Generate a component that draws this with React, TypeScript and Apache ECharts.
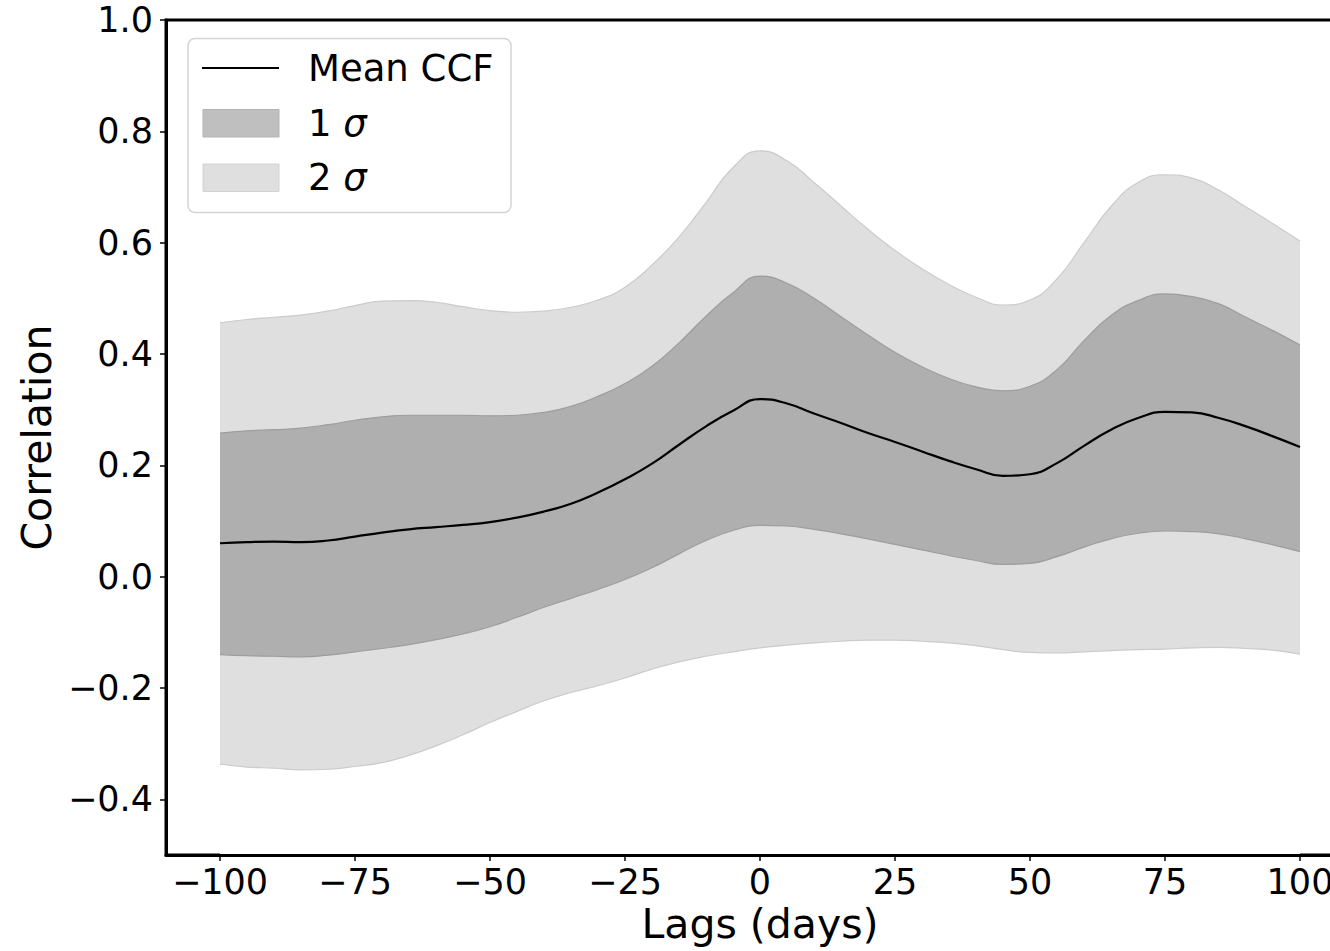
import React, { useEffect, useRef } from 'react';
import * as echarts from 'echarts';

// Lags (days) at which the CCF summary is sampled
const lags = [
  -100, -95, -90, -85, -80, -75, -70, -65, -60, -55, -50, -45, -40, -35, -30, -25, -20, -15, -10, -5,
  0, 5, 10, 15, 20, 25, 30, 35, 40, 45, 50, 55, 60, 65, 70, 75, 80, 85, 90, 95, 100,
];

const meanCCF = [
  0.060, 0.062, 0.063, 0.062, 0.065, 0.072, 0.079, 0.085, 0.089, 0.093, 0.098, 0.106, 0.117, 0.131,
  0.151, 0.175, 0.203, 0.237, 0.270, 0.298, 0.319, 0.311, 0.293, 0.276, 0.258, 0.242, 0.225, 0.208,
  0.193, 0.181, 0.184, 0.204, 0.235, 0.264, 0.285, 0.296, 0.295, 0.285, 0.270, 0.252, 0.233,
];

const sigma1Upper = [
  0.258, 0.262, 0.264, 0.267, 0.273, 0.281, 0.287, 0.290, 0.290, 0.290, 0.289, 0.290, 0.295, 0.306,
  0.324, 0.347, 0.378, 0.420, 0.468, 0.510, 0.540, 0.527, 0.500, 0.467, 0.434, 0.403, 0.377, 0.356,
  0.341, 0.334, 0.342, 0.372, 0.424, 0.469, 0.496, 0.508, 0.503, 0.490, 0.466, 0.442, 0.416,
];

const sigma1Lower = [
  -0.140, -0.142, -0.143, -0.144, -0.141, -0.135, -0.129, -0.122, -0.113, -0.103, -0.090, -0.073,
  -0.055, -0.039, -0.023, -0.005, 0.016, 0.041, 0.065, 0.083, 0.092, 0.091, 0.085, 0.077, 0.068,
  0.058, 0.048, 0.038, 0.029, 0.022, 0.024, 0.036, 0.053, 0.068, 0.078, 0.082, 0.081, 0.077, 0.068,
  0.057, 0.045,
];

const sigma2Upper = [
  0.456, 0.462, 0.466, 0.470, 0.477, 0.487, 0.495, 0.496, 0.493, 0.485, 0.478, 0.475, 0.477, 0.484,
  0.497, 0.520, 0.560, 0.610, 0.672, 0.735, 0.765, 0.747, 0.708, 0.666, 0.624, 0.586, 0.553, 0.525,
  0.502, 0.488, 0.497, 0.535, 0.600, 0.665, 0.708, 0.722, 0.716, 0.694, 0.664, 0.634, 0.603,
];

const sigma2Lower = [
  -0.337, -0.342, -0.344, -0.347, -0.346, -0.341, -0.334, -0.321, -0.304, -0.284, -0.262, -0.242,
  -0.223, -0.208, -0.196, -0.182, -0.166, -0.153, -0.143, -0.135, -0.128, -0.123, -0.119, -0.116,
  -0.114, -0.114, -0.116, -0.119, -0.124, -0.131, -0.136, -0.137, -0.135, -0.133, -0.131, -0.130,
  -0.128, -0.127, -0.129, -0.132, -0.139,
];

const xTickValues = [-100, -75, -50, -25, 0, 25, 50, 75, 100];
const yTickValues = [-0.4, -0.2, 0.0, 0.2, 0.4, 0.6, 0.8, 1.0];

const FONT = 'DejaVu Sans';

export default function App() {
  const ref = useRef<HTMLDivElement>(null);

  useEffect(() => {
    if (!ref.current) return;
    const chart = echarts.init(ref.current, undefined, { renderer: 'svg' });

    const pairs = (arr: number[]) => arr.map((v, i) => [lags[i], v]);
    const SMOOTH = 0.5;

    // Each band edge is filled down to the axis bottom; nested, opaque fills
    // painted in order give the 2σ / 1σ / 1σ / 2σ layering.
    const edge = (name: string, data: number[], fill: string, stroke: string) => ({
      name,
      type: 'line',
      data: pairs(data),
      smooth: SMOOTH,
      symbol: 'none',
      showSymbol: false,
      silent: true,
      lineStyle: { color: stroke, width: 1.2 },
      areaStyle: { color: fill, opacity: 1, origin: 'start' },
    });

    const option: any = {
      animation: false,
      backgroundColor: '#ffffff',
      grid: {
        left: 166,
        top: 20,
        width: 1188,
        height: 835,
        show: true,
        borderColor: '#000000',
        borderWidth: 3,
        backgroundColor: 'transparent',
        containLabel: false,
        outerBoundsMode: 'none',
      },
      xAxis: {
        type: 'value',
        min: -110,
        max: 110,
        z: 10,
        name: 'Lags (days)',
        nameLocation: 'middle',
        nameGap: 48,
        nameTextStyle: { fontSize: 41, fontFamily: FONT, color: '#000' },
        axisLine: { show: true, onZero: false, lineStyle: { color: '#000', width: 3 } },
        axisTick: {
          show: true,
          length: 6,
          lineStyle: { color: '#000', width: 1.5 },
          customValues: xTickValues,
        },
        axisLabel: {
          customValues: xTickValues,
          formatter: (v: number) => (v < 0 ? '\u2212' : '') + Math.abs(v),
          fontSize: 35,
          fontFamily: FONT,
          color: '#000',
          margin: 9,
        },
        splitLine: { show: false },
      },
      yAxis: {
        type: 'value',
        min: -0.5,
        max: 1.0,
        z: 10,
        name: 'Correlation',
        nameLocation: 'middle',
        nameGap: 107,
        nameTextStyle: { fontSize: 41, fontFamily: FONT, color: '#000' },
        axisLine: { show: true, onZero: false, lineStyle: { color: '#000', width: 3 } },
        axisTick: {
          show: true,
          length: 6,
          lineStyle: { color: '#000', width: 1.5 },
          customValues: yTickValues,
        },
        axisLabel: {
          customValues: yTickValues,
          formatter: (v: number) => (v < -1e-9 ? '\u2212' : '') + Math.abs(v).toFixed(1),
          fontSize: 35,
          fontFamily: FONT,
          color: '#000',
          margin: 13,
        },
        splitLine: { show: false },
      },
      series: [
        edge('2 σ', sigma2Upper, '#dfdfdf', '#cbcbcb'),
        edge('1 σ', sigma1Upper, '#afafaf', '#9d9d9d'),
        edge('1σ lower', sigma1Lower, '#dfdfdf', '#9d9d9d'),
        edge('2σ lower', sigma2Lower, '#ffffff', '#cbcbcb'),
        {
          name: 'Mean CCF',
          type: 'line',
          data: pairs(meanCCF),
          smooth: SMOOTH,
          symbol: 'none',
          showSymbol: false,
          silent: true,
          lineStyle: { color: '#000000', width: 2.2 },
        },
      ],
      graphic: [
        {
          type: 'rect',
          z: 100,
          shape: { x: 188, y: 38.5, width: 323, height: 174, r: 7 },
          style: { fill: 'rgba(255,255,255,0.8)', stroke: '#d4d4d4', lineWidth: 1.5 },
        },
        {
          type: 'line',
          z: 101,
          shape: { x1: 202, y1: 68, x2: 279, y2: 68 },
          style: { stroke: '#000000', lineWidth: 2.2 },
        },
        {
          type: 'rect',
          z: 101,
          shape: { x: 203, y: 109.5, width: 76, height: 27.5 },
          style: { fill: '#bfbfbf', stroke: '#b3b3b3', lineWidth: 1 },
        },
        {
          type: 'rect',
          z: 101,
          shape: { x: 203, y: 164, width: 76, height: 27.5 },
          style: { fill: '#dfdfdf', stroke: '#d2d2d2', lineWidth: 1 },
        },
        {
          type: 'text',
          z: 101,
          x: 308,
          y: 68,
          style: {
            text: 'Mean CCF',
            fontSize: 37,
            fontFamily: FONT,
            fill: '#000',
            verticalAlign: 'middle',
            align: 'left',
          },
        },
        {
          type: 'text',
          z: 101,
          x: 308,
          y: 123,
          style: {
            text: '1 {i|σ}',
            fontSize: 37,
            fontFamily: FONT,
            fill: '#000',
            verticalAlign: 'middle',
            align: 'left',
            rich: { i: { fontStyle: 'italic', fontSize: 37, fontFamily: FONT, fill: '#000' } },
          },
        },
        {
          type: 'text',
          z: 101,
          x: 308,
          y: 177,
          style: {
            text: '2 {i|σ}',
            fontSize: 37,
            fontFamily: FONT,
            fill: '#000',
            verticalAlign: 'middle',
            align: 'left',
            rich: { i: { fontStyle: 'italic', fontSize: 37, fontFamily: FONT, fill: '#000' } },
          },
        },
      ],
    };

    chart.setOption(option);
    return () => chart.dispose();
  }, []);

  return (
    <div
      ref={ref}
      style={{ position: 'fixed', left: 0, top: 0, width: 1330, height: 951, background: '#fff' }}
    />
  );
}
